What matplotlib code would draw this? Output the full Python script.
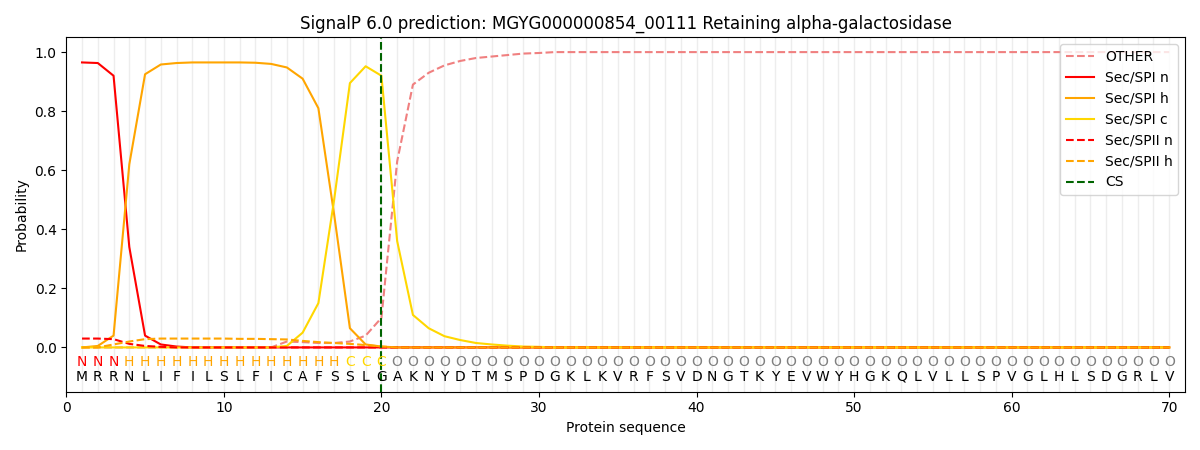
import numpy as np
import matplotlib
matplotlib.use("Agg")
import matplotlib.pyplot as plt

seq = list("MRRNLIFILSLFICAFSSLGAKNYDTMSPDGKLKVRFSVDNGTKYEVWYHGKQLVLLSPVGLHLSDGRLV")
labels = list("NNN" + "H" * 14 + "CCC" + "O" * 50)
n = len(seq)
pos = np.arange(1, n + 1)

tail = [1.0] * (n - 30)
other = [0.0] * 13 + [0.02, 0.018, 0.015, 0.015, 0.02, 0.04, 0.1, 0.63, 0.89, 0.93, 0.955,
                      0.97, 0.98, 0.985, 0.99, 0.995, 0.997] + tail
spi_n = [0.965, 0.963, 0.92, 0.34, 0.04, 0.01, 0.003] + [0.0] * (n - 7)
spi_h = [0.0, 0.005, 0.04, 0.62, 0.925, 0.958, 0.963, 0.965, 0.965, 0.965, 0.965, 0.964,
         0.96, 0.948, 0.91, 0.81, 0.45, 0.065, 0.01, 0.003] + [0.0] * (n - 20)
spi_c = [0.0] * 13 + [0.005, 0.05, 0.15, 0.5, 0.895, 0.952, 0.92, 0.36, 0.11, 0.065, 0.038,
                      0.025, 0.015, 0.01, 0.006, 0.003, 0.002] + [0.0] * (n - 30)
spii_n = [0.03, 0.03, 0.028, 0.012, 0.005, 0.002] + [0.0] * (n - 6)
spii_h = [0.0, 0.0, 0.01, 0.02, 0.028, 0.03, 0.03, 0.03, 0.03, 0.03, 0.029, 0.029, 0.028,
          0.027, 0.022, 0.018, 0.015, 0.012, 0.008, 0.003] + [0.0] * (n - 20)
cs_pos = 20

colors = {"N": "red", "H": "orange", "C": "gold", "O": "gray"}

fig, ax = plt.subplots(figsize=(12, 4.5))
for p in pos:
    ax.axvline(p, color="lightgray", alpha=0.4, lw=1)
ax.plot(pos, other, "--", color="lightcoral", label="OTHER")
ax.plot(pos, spi_n, color="red", label="Sec/SPI n")
ax.plot(pos, spi_h, color="orange", label="Sec/SPI h")
ax.plot(pos, spi_c, color="gold", label="Sec/SPI c")
ax.plot(pos, spii_n, "--", color="red", label="Sec/SPII n")
ax.plot(pos, spii_h, "--", color="orange", label="Sec/SPII h")
ax.axvline(cs_pos, ls="--", color="darkgreen", label="CS")

for p, s, l in zip(pos, seq, labels):
    ax.text(p, -0.05, l, color=colors[l], ha="center", va="center", fontsize=10)
    ax.text(p, -0.1, s, color="black", ha="center", va="center", fontsize=10)

ax.set_xlim(0, 71)
ax.set_ylim(-0.15, 1.05)
ax.set_xlabel("Protein sequence")
ax.set_ylabel("Probability")
ax.set_title("SignalP 6.0 prediction: MGYG000000854_00111 Retaining alpha-galactosidase")
ax.legend(loc="upper right")
fig.tight_layout()
fig.savefig("out.png", dpi=100)
